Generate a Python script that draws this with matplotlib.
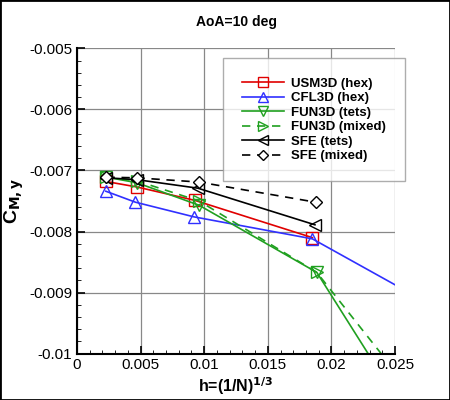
import numpy as np
import matplotlib.pyplot as plt
from matplotlib.ticker import MultipleLocator
from matplotlib.patches import Rectangle

plt.rcParams['font.family'] = ['Liberation Sans', 'DejaVu Sans']

# grid spacing h and pitching moment values
h_usm = [0.00227, 0.00471, 0.00927, 0.0185]
cm_usm = [-0.00718, -0.00727, -0.00749, -0.00810]

h_cfl = [0.00227, 0.0046, 0.0092, 0.0185, 0.0298]
cm_cfl = [-0.00734, -0.00752, -0.00776, -0.00812, -0.00943]

h_fun_tet = [0.00232, 0.0047, 0.0096, 0.01885, 0.0296]
cm_fun_tet = [-0.00711, -0.00720, -0.00757, -0.00867, -0.01222]

h_fun_mix = [0.00232, 0.0047, 0.0096, 0.01885, 0.0296]
cm_fun_mix = [-0.00711, -0.00717, -0.00750, -0.00867, -0.01150]

h_sfe_tet = [0.00232, 0.0047, 0.0095, 0.0187]
cm_sfe_tet = [-0.00712, -0.00715, -0.00729, -0.00789]

h_sfe_mix = [0.00232, 0.0047, 0.0096, 0.01877]
cm_sfe_mix = [-0.00711, -0.00712, -0.00719, -0.00752]

x_ticks = [0, 0.005, 0.01, 0.015, 0.02, 0.025]
x_labels = ['0', '0.005', '0.01', '0.015', '0.02', '0.025']
y_ticks = [-0.01, -0.009, -0.008, -0.007, -0.006, -0.005]
y_labels = ['-0.01', '-0.009', '-0.008', '-0.007', '-0.006', '-0.005']

fig = plt.figure(figsize=(4.5, 4), dpi=100)
ax = fig.add_axes([0.171, 0.116, 0.707, 0.763])

ms = 8
ax.plot(h_usm, cm_usm, color='#e00000', lw=1.2, marker='s', ms=ms, mfc='none', label='USM3D (hex)')
ax.plot(h_cfl, cm_cfl, color='#3030ff', lw=1.2, marker='^', ms=ms, mfc='none', label='CFL3D (hex)')
ax.plot(h_fun_tet, cm_fun_tet, color='#20a020', lw=1.2, marker='v', ms=ms, mfc='none', label='FUN3D (tets)')
ax.plot(h_fun_mix, cm_fun_mix, color='#20a020', lw=1.2, ls=(0, (5, 4)), marker='>', ms=ms, mfc='none', label='FUN3D (mixed)')
ax.plot(h_sfe_tet, cm_sfe_tet, color='black', lw=1.2, marker='<', ms=ms, mfc='none', label='SFE (tets)')
ax.plot(h_sfe_mix, cm_sfe_mix, color='black', lw=1.2, ls=(0, (5, 4)), marker='D', ms=6.5, mfc='white', label='SFE (mixed)')

ax.set_xlim(0, 0.025)
ax.set_ylim(-0.01, -0.005)
ax.set_xticks(x_ticks, x_labels)
ax.set_yticks(y_ticks, y_labels)
ax.xaxis.set_minor_locator(MultipleLocator(0.001))
ax.yaxis.set_minor_locator(MultipleLocator(0.0002))
ax.tick_params(which='both', direction='in', labelsize=11)
ax.tick_params(which='major', length=6, width=1.2)
ax.tick_params(which='minor', length=3)
ax.grid(True, which='major', color='#888888', lw=0.9)
ax.set_axisbelow(True)
for s in ['top', 'right']:
    ax.spines[s].set_visible(False)
for s in ['left', 'bottom']:
    ax.spines[s].set_linewidth(1.5)

ax.set_xlabel(r'h=(1/N)$^{\mathbf{1/3}}$', fontsize=11.5, fontweight='bold', labelpad=2)
ax.set_ylabel(r'C$_{\mathbf{M,y}}$', fontsize=14, fontweight='bold', labelpad=2)
ax.set_title('AoA=10 deg', fontsize=10, fontweight='bold', pad=16)

leg = ax.legend(loc='upper left', bbox_to_anchor=(0.459, 0.967), fontsize=9.5, handlelength=3.2,
                frameon=True, fancybox=False, edgecolor='#999999', borderpad=1.45,
                labelspacing=0.17, handletextpad=0.5, borderaxespad=0, markerscale=0.85)
for t in leg.get_texts():
    t.set_fontweight('bold')
leg.get_frame().set_linewidth(1.0)

fig.patches.append(Rectangle((0, 0), 1, 1, transform=fig.transFigure, fill=False,
                             edgecolor='black', lw=2))

fig.savefig('out.png', dpi=100)
